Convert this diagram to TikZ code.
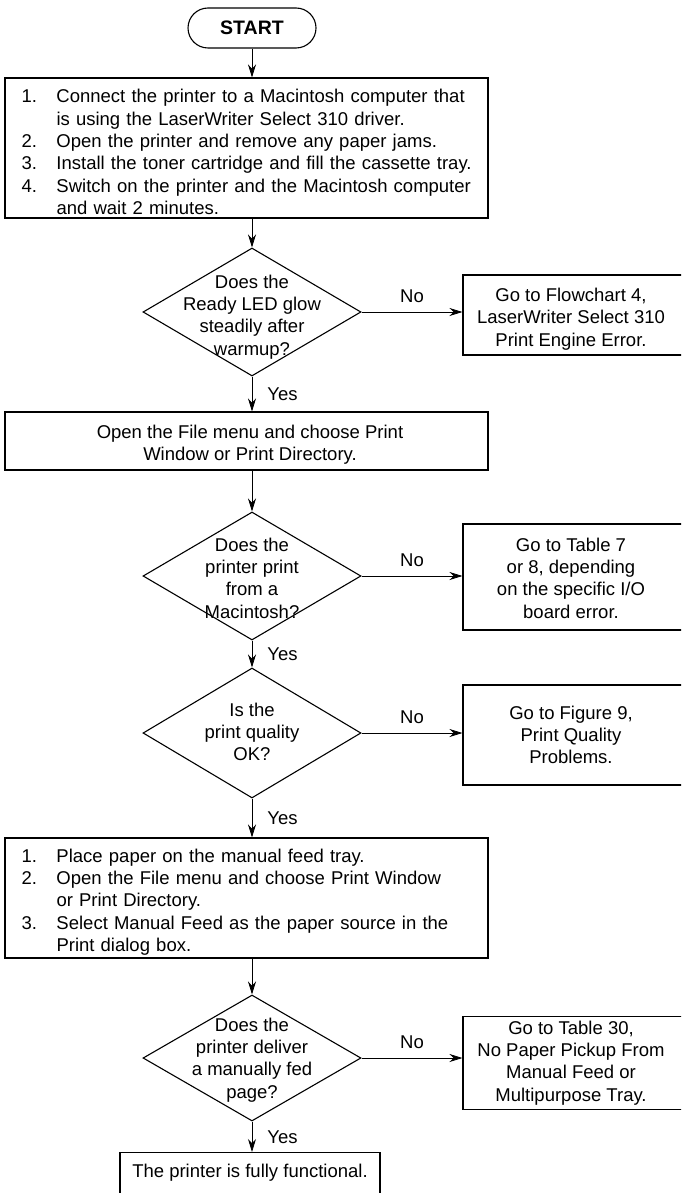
\documentclass[tikz,border=0pt]{standalone}
\usepackage{fontspec}
\setmainfont{Liberation Sans}
\usetikzlibrary{shapes.geometric,arrows.meta}
\begin{document}
\begin{tikzpicture}[x=1pt,y=-1pt,
  every node/.style={font=\fontsize{18.5}{22.3}\selectfont, inner sep=0pt},
  boxnode/.style={draw, line width=1.1pt, minimum width=#1},
  dia/.style={draw, diamond, line width=1.1pt, minimum width=218pt, minimum height=#1},
  startnode/.style={draw, line width=1.1pt, rounded corners=20pt, minimum width=128pt, minimum height=40pt, font=\fontsize{19.5}{22}\selectfont\bfseries},
  flow/.style={line width=0.8pt, -{Stealth[length=13pt,width=8pt]}},
  lbl/.style={font=\fontsize{18.5}{22}\selectfont}
]
\clip (0,0) rectangle (681,1193);

\node[startnode] (start) at (252,28) {START};

\node[boxnode=483pt, minimum height=140pt] (b1) at (246.5,148) {};
\node[text width=459pt, align=left] (b1t) at (251,152)
{\makebox[35pt][l]{1.}Connect the printer to a Macintosh computer that\\
 \hspace*{35pt}is using the LaserWriter Select 310 driver.\\
 \makebox[35pt][l]{2.}Open the printer and remove any paper jams.\\
 \makebox[35pt][l]{3.}Install the toner cartridge and fill the cassette tray.\\
 \makebox[35pt][l]{4.}Switch on the printer and the Macintosh computer\\
 \hspace*{35pt}and wait 2 minutes.};

\node[dia=128pt] (d1) at (252,312) {};
\node[align=center] (d1t) at (252,317) {Does the\\Ready LED glow\\steadily after\\warmup?};

\node[boxnode=227pt, minimum height=80pt] (e1) at (576.5,315) {};
\node[align=center] (e1t) at (571,319) {Go to Flowchart 4,\\LaserWriter Select 310\\Print Engine Error.};

\node[boxnode=483pt, minimum height=58pt] (b2) at (246.5,441) {};
\node[align=center] (b2t) at (250,445) {Open the File menu and choose Print\\Window or Print Directory.};

\node[dia=128pt] (d2) at (252,576) {};
\node[align=center] (d2t) at (252,578) {Does the\\printer print\\from a\\Macintosh?};

\node[boxnode=227pt, minimum height=106pt] (e2) at (576.5,577) {};
\node[align=center] (e2t) at (571,578) {Go to Table 7\\or 8, depending\\on the specific I/O\\board error.};

\node[dia=130pt] (d3) at (252,733) {};
\node[align=center] (d3t) at (252,732) {Is the\\print quality\\OK?};

\node[boxnode=227pt, minimum height=100pt] (e3) at (576.5,735) {};
\node[align=center] (e3t) at (571,735) {Go to Figure 9,\\Print Quality\\Problems.};

\node[boxnode=483pt, minimum height=120pt] (b3) at (246.5,898) {};
\node[text width=459pt, align=left] (b3t) at (251,902)
{\makebox[35pt][l]{1.}Place paper on the manual feed tray.\\
 \makebox[35pt][l]{2.}Open the File menu and choose Print Window\\
 \hspace*{35pt}or Print Directory.\\
 \makebox[35pt][l]{3.}Select Manual Feed as the paper source in the\\
 \hspace*{35pt}Print dialog box.};

\node[dia=126pt] (d4) at (252,1058) {};
\node[align=center] (d4t) at (252,1060) {Does the\\printer deliver\\a manually fed\\page?};

\node[boxnode=227pt, minimum height=93pt] (e4) at (576.5,1063) {};
\node[align=center] (e4t) at (571,1063) {Go to Table 30,\\No Paper Pickup From\\Manual Feed or\\Multipurpose Tray.};

\node[boxnode=260pt, minimum height=60pt, anchor=north] (b4) at (250,1152) {};
\node (b4t) at (250,1173) {The printer is fully functional.};

% connectors
\draw[flow] (start.south) -- (start.south |- b1.north);
\draw[flow] (b1.south -| d1.north) -- (d1.north);
\draw[flow] (d1.east) -- (d1.east -| e1.west) node[lbl, midway, above=9pt] {No};
\draw[flow] (d1.south) -- (d1.south |- b2.north) node[lbl, midway, right=15pt] {Yes};
\draw[flow] (b2.south -| d2.north) -- (d2.north);
\draw[flow] (d2.east) -- (d2.east -| e2.west) node[lbl, midway, above=9pt] {No};
\draw[flow] (d2.south) -- (d3.north) node[lbl, midway, right=15pt] {Yes};
\draw[flow] (d3.east) -- (d3.east -| e3.west) node[lbl, midway, above=9pt] {No};
\draw[flow] (d3.south) -- (d3.south |- b3.north) node[lbl, midway, right=15pt] {Yes};
\draw[flow] (b3.south -| d4.north) -- (d4.north);
\draw[flow] (d4.east) -- (d4.east -| e4.west) node[lbl, midway, above=9pt] {No};
\draw[flow] (d4.south) -- (d4.south |- b4.north) node[lbl, midway, right=15pt] {Yes};
\end{tikzpicture}
\end{document}
